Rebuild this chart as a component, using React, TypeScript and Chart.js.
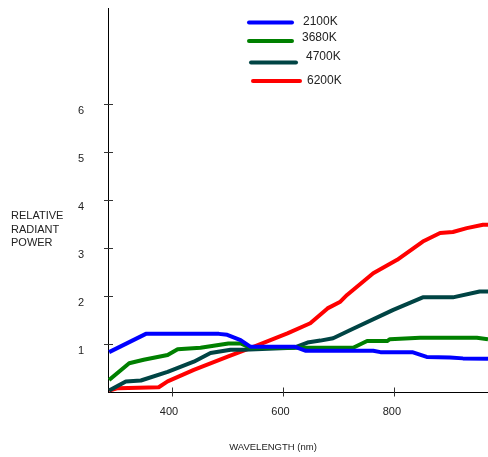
import React, { useEffect, useRef } from "react";
import { Chart, registerables } from "chart.js";

Chart.register(...registerables);

const seriesNames = ["2100K", "3680K", "4700K", "6200K"];
const seriesColors = ["#0000ff", "#008000", "#004444", "#ff0000"];

const blue2100: [number, number][] = [
  [288, 0.84], [354, 1.22], [485, 1.22], [500, 1.2], [524, 1.09], [542, 0.95],
  [622, 0.95], [640, 0.87], [762, 0.87], [775, 0.84], [832, 0.84], [858, 0.74],
  [900, 0.73], [923, 0.71], [968, 0.7],
];
const green3680: [number, number][] = [
  [288, 0.26], [324, 0.61], [350, 0.68], [393, 0.78], [411, 0.9], [452, 0.93],
  [502, 1.02], [524, 1.02], [542, 0.93], [726, 0.93], [751, 1.07], [787, 1.07],
  [792, 1.11], [846, 1.14], [948, 1.14], [968, 1.11],
];
const teal4700: [number, number][] = [
  [288, 0.04], [318, 0.23], [345, 0.25], [393, 0.43], [440, 0.64], [470, 0.82],
  [506, 0.89], [529, 0.89], [619, 0.93], [644, 1.04], [667, 1.08], [690, 1.13],
  [721, 1.3], [798, 1.72], [851, 1.98], [905, 1.98], [953, 2.1], [968, 2.1],
];
const red6200: [number, number][] = [
  [288, 0.04], [304, 0.09], [377, 0.11], [393, 0.23], [440, 0.47], [502, 0.75],
  [547, 0.95], [608, 1.23], [649, 1.44], [680, 1.75], [703, 1.89], [715, 2.03],
  [762, 2.48], [805, 2.76], [851, 3.14], [882, 3.32], [905, 3.34], [930, 3.42],
  [959, 3.49], [968, 3.49],
];
const seriesData = [blue2100, green3680, teal4700, red6200];

const xTickValues = [400, 600, 800];
const yTickValues = [1, 2, 3, 4, 5, 6];
const xTitle = "WAVELENGTH (nm)";
const yTitleLines = ["RELATIVE", "RADIANT", "POWER"];

const FONT = "Arial, 'Liberation Sans', sans-serif";

const decorPlugin = {
  id: "decor",
  afterDraw(chart: any) {
    const ctx = chart.ctx;
    const xs = chart.scales.x;
    const ys = chart.scales.y;
    const axisX = chart.chartArea.left;
    const axisY = chart.chartArea.bottom;
    ctx.save();
    // tick marks crossing axes
    ctx.strokeStyle = "#333";
    ctx.lineWidth = 1;
    yTickValues.forEach((v) => {
      const py = Math.round(ys.getPixelForValue(v)) + 0.5;
      ctx.beginPath();
      ctx.moveTo(axisX - 4, py);
      ctx.lineTo(axisX + 5, py);
      ctx.stroke();
    });
    xTickValues.forEach((v) => {
      const px = Math.round(xs.getPixelForValue(v)) + 0.5;
      ctx.beginPath();
      ctx.moveTo(px, axisY - 5);
      ctx.lineTo(px, axisY + 4);
      ctx.stroke();
    });
    // axis titles
    ctx.fillStyle = "#222";
    ctx.font = `11px ${FONT}`;
    ctx.textBaseline = "middle";
    ctx.textAlign = "left";
    yTitleLines.forEach((t, i) => {
      ctx.fillText(t, 11, 216 + i * 13.7);
    });
    ctx.textAlign = "center";
    ctx.font = `9.5px ${FONT}`;
    ctx.fillText(xTitle, 273, 447);
    // legend
    const legendPos = [
      { x1: 249, x2: 292, y: 22.5, tx: 303, ty: 22 },
      { x1: 249, x2: 292, y: 41, tx: 302, ty: 38 },
      { x1: 251, x2: 296, y: 62.5, tx: 306, ty: 57 },
      { x1: 253, x2: 300, y: 81, tx: 307, ty: 81 },
    ];
    ctx.lineCap = "round";
    ctx.textAlign = "left";
    ctx.font = `12px ${FONT}`;
    seriesNames.forEach((name, i) => {
      const p = legendPos[i];
      ctx.strokeStyle = seriesColors[i];
      ctx.lineWidth = 4;
      ctx.beginPath();
      ctx.moveTo(p.x1, p.y);
      ctx.lineTo(p.x2, p.y);
      ctx.stroke();
      ctx.fillStyle = "#222";
      ctx.fillText(name, p.tx, p.ty);
    });
    ctx.restore();
  },
};

export default function App() {
  const ref = useRef<HTMLCanvasElement | null>(null);
  useEffect(() => {
    if (!ref.current) return;
    const chart = new Chart(ref.current, {
      type: "line",
      data: {
        datasets: seriesNames.map((name, i) => ({
          label: name,
          data: seriesData[i].map(([x, y]) => ({ x, y })),
          borderColor: seriesColors[i],
          backgroundColor: seriesColors[i],
          borderWidth: 4,
          pointRadius: 0,
          tension: 0,
          fill: false,
          borderJoinStyle: "round" as const,
        })),
      },
      options: {
        animation: false,
        responsive: false,
        layout: { padding: { top: 8, right: 0, left: 0, bottom: 0 } },
        plugins: { legend: { display: false }, tooltip: { enabled: false } },
        scales: {
          x: {
            type: "linear",
            min: 286,
            max: 968,
            afterBuildTicks: (scale: any) => {
              scale.ticks = xTickValues.map((v) => ({ value: v }));
            },
            afterFit: (scale: any) => {
              scale.height = 64.5;
              scale.paddingLeft = 0;
              scale.paddingRight = 0;
            },
            grid: { display: false, drawTicks: false },
            border: { display: true, color: "#000", width: 1 },
            ticks: {
              padding: 13,
              labelOffset: -2.5,
              color: "#222",
              font: { size: 11, family: FONT },
              maxRotation: 0,
              autoSkip: false,
            },
          },
          y: {
            type: "linear",
            min: 0,
            max: 8,
            afterBuildTicks: (scale: any) => {
              scale.ticks = yTickValues.map((v) => ({ value: v }));
            },
            afterFit: (scale: any) => {
              scale.width = 108;
              scale.paddingTop = 0;
              scale.paddingBottom = 0;
            },
            grid: { display: false, drawTicks: false },
            border: { display: true, color: "#000", width: 1 },
            ticks: {
              padding: 24,
              labelOffset: 7,
              color: "#222",
              font: { size: 11, family: FONT },
              autoSkip: false,
            },
          },
        },
      },
      plugins: [decorPlugin],
    });
    return () => chart.destroy();
  }, []);
  return (
    <canvas
      ref={ref}
      width={488}
      height={457}
      style={{ position: "absolute", left: 0, top: 0, width: 488, height: 457 }}
    />
  );
}
